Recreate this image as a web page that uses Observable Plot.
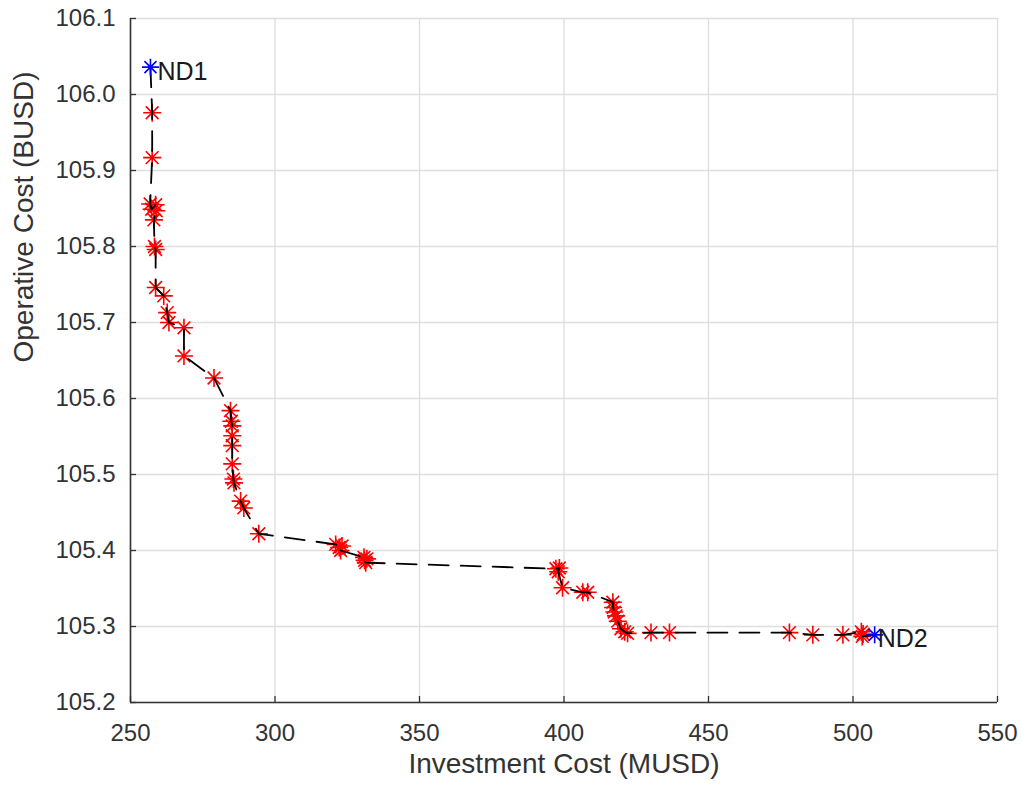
<!DOCTYPE html>
<html>
<head>
<meta charset="utf-8">
<script src="https://cdn.jsdelivr.net/npm/d3@7"></script>
<script src="https://cdn.jsdelivr.net/npm/@observablehq/plot@0.6"></script>
<style>
  html, body { margin: 0; padding: 0; background: #fff; }
  #chart svg { display: block; }
</style>
</head>
<body>
<div id="chart"></div>
<script>
// Pareto points (path order) — Investment Cost (MUSD) and Operative Cost (BUSD)
const invest = [
  257.5, 257.5, 256.8, 257.3, 258.7, 258.9, 258.1, 258.3, 258.7, 258.7,
  261.5, 262.7, 263.3, 268.5, 268.5, 278.9, 284.6, 284.9, 285.2, 285.2,
  285.2, 285.2, 285.6, 285.8, 288.1, 289.2, 294.4, 321.0, 322.2, 323.2,
  322.7, 330.8, 331.8, 331.0, 331.4, 397.2, 398.4, 398.0, 399.5, 406.5,
  408.2, 416.9, 417.0, 417.4, 418.0, 418.6, 419.7, 421.0, 422.0, 430.1,
  436.5, 478.0, 486.1, 496.5, 502.9, 503.5, 503.2
];
const operative = [
  105.976, 105.917, 105.856, 105.849, 105.855, 105.847, 105.835, 105.800, 105.796, 105.746,
  105.735, 105.713, 105.700, 105.693, 105.656, 105.627, 105.584, 105.570, 105.564, 105.551,
  105.538, 105.514, 105.494, 105.489, 105.465, 105.456, 105.422, 105.408, 105.404, 105.406,
  105.400, 105.391, 105.389, 105.387, 105.384, 105.376, 105.377, 105.372, 105.351, 105.345,
  105.345, 105.332, 105.325, 105.319, 105.314, 105.307, 105.297, 105.293, 105.291, 105.292,
  105.292, 105.292, 105.289, 105.289, 105.293, 105.290, 105.287
];
// Extreme (nadir) solutions
const ndLabels = ["ND1", "ND2"];
const ndInvest = [256.9, 507.5];
const ndOperative = [106.036, 105.289];

const xTicks = [250, 300, 350, 400, 450, 500, 550];
const yTicks = [105.2, 105.3, 105.4, 105.5, 105.6, 105.7, 105.8, 105.9, 106.0, 106.1];

const pts = invest.map((x, i) => ({x, y: operative[i]}));
const nd = ndLabels.map((label, i) => ({label, x: ndInvest[i], y: ndOperative[i]}));
const path = [nd[0], ...pts, nd[1]];

const asterisk = {
  draw(ctx, size) {
    const r = Math.sqrt(size / Math.PI);
    const d = r * Math.SQRT1_2;
    ctx.moveTo(-r, 0); ctx.lineTo(r, 0);
    ctx.moveTo(0, -r); ctx.lineTo(0, r);
    ctx.moveTo(-d, -d); ctx.lineTo(d, d);
    ctx.moveTo(-d, d); ctx.lineTo(d, -d);
  }
};

const W = 1022, H = 786;
const mL = 130, mR = 25, mT = 18, mB = 84;
const fw = W - mL - mR, fh = H - mT - mB;
const axisColor = "#333333";
const gridColor = "#dedede";
const font = "'Liberation Sans', Arial, Helvetica, sans-serif";

const chart = Plot.plot({
  width: W,
  height: H,
  marginLeft: mL,
  marginRight: mR,
  marginTop: mT,
  marginBottom: mB,
  style: {fontFamily: font, fontSize: "24px", color: axisColor, background: "#fff", overflow: "visible"},
  x: {domain: [250, 550], ticks: xTicks},
  y: {domain: [105.2, 106.1], ticks: yTicks},
  marks: [
    Plot.gridX(xTicks, {stroke: gridColor, strokeOpacity: 1, strokeWidth: 1.3}),
    Plot.gridY(yTicks, {stroke: gridColor, strokeOpacity: 1, strokeWidth: 1.3}),
    Plot.axisX(xTicks, {tickSize: 0, tickPadding: 21, label: null, tickFormat: d3.format("d"), fill: axisColor}),
    Plot.axisY(yTicks, {tickSize: 0, tickPadding: 15, label: null, tickFormat: d3.format(".1f"), fill: axisColor}),
    Plot.tickX(xTicks, {x: d => d, stroke: axisColor, strokeWidth: 1.3, insetTop: fh - 6}),
    Plot.tickY(yTicks, {y: d => d, stroke: axisColor, strokeWidth: 1.3, insetRight: fw - 6}),
    Plot.ruleX([250], {stroke: axisColor, strokeWidth: 1.6}),
    Plot.ruleY([105.2], {stroke: axisColor, strokeWidth: 1.6}),
    Plot.dot(pts, {x: "x", y: "y", symbol: asterisk, r: 9, fill: "none", stroke: "#ff0000", strokeWidth: 1.6}),
    Plot.line(path, {x: "x", y: "y", stroke: "#000", strokeWidth: 1.8, strokeDasharray: "20,12"}),
    Plot.dot(nd, {x: "x", y: "y", symbol: asterisk, r: 8.5, fill: "none", stroke: "#0000ff", strokeWidth: 1.6}),
    Plot.text(nd.filter(d => d.label === "ND1"), {x: "x", y: "y", text: "label", textAnchor: "start", dx: 7, dy: 5, fontSize: 25, fill: "#1a1a1a"}),
    Plot.text(nd.filter(d => d.label === "ND2"), {x: "x", y: "y", text: "label", textAnchor: "start", dx: 3, dy: 4, fontSize: 25, fill: "#1a1a1a"}),
    Plot.text(["Investment Cost (MUSD)"], {frameAnchor: "bottom", dy: 70, fontSize: 28, fill: axisColor}),
    Plot.text(["Operative Cost (BUSD)"], {frameAnchor: "left", rotate: -90, dx: -106, dy: 2, fontSize: 28, fill: axisColor})
  ]
});
document.getElementById("chart").appendChild(chart);
</script>
</body>
</html>
